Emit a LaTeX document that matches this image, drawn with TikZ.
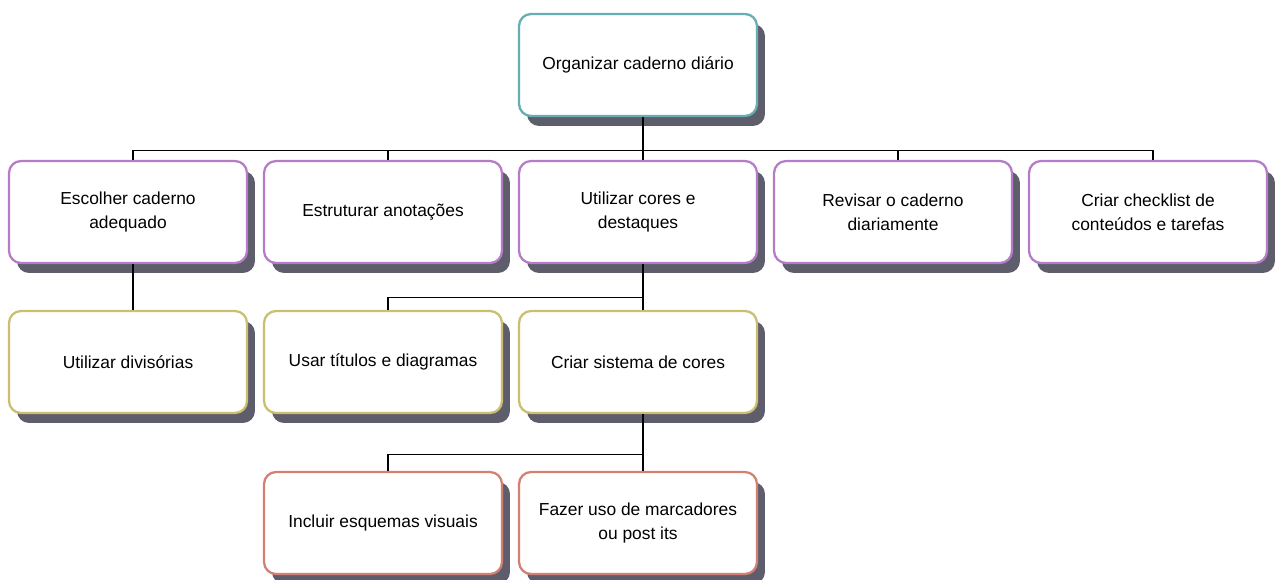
\documentclass[tikz,border=0pt]{standalone}
\usepackage{fontspec}
\setmainfont{Liberation Sans}
\usepackage{tikz}
\usetikzlibrary{positioning,shadows}
\definecolor{raizcor}{HTML}{66AEB4}
\definecolor{roxo}{HTML}{B57CC8}
\definecolor{oliva}{HTML}{CBBE6E}
\definecolor{salmao}{HTML}{D47F74}
\definecolor{sombra}{HTML}{5E5D6C}
\tikzset{
    caixa/.style={rectangle, rounded corners=0.24cm, draw, line width=1.3pt, fill=white,
        minimum width=4.76cm, minimum height=2.04cm, align=center,
        font=\fontsize{9.9}{13.6}\selectfont,
        drop shadow={shadow xshift=0.16cm, shadow yshift=-0.2cm, fill=sombra, opacity=1}},
    ligacao/.style={line width=0.6pt, black}
}

\begin{document}
\begin{tikzpicture}[x=0.02cm, y=-0.02cm]
    \useasboundingbox (0,0) rectangle (1283,580);

    % Raiz
    \node[caixa, draw=raizcor] (raiz) at (638,65) {Organizar caderno diário};

    % Primeiro nivel
    \node[caixa, draw=roxo] (escolher) at (128,212) {Escolher caderno\\adequado};
    \node[caixa, draw=roxo] (estruturar) at (383,212) {Estruturar anotações};
    \node[caixa, draw=roxo] (cores) at (638,212) {Utilizar cores e\\destaques};
    \node[caixa, draw=roxo] (revisar) at (893,212) {Revisar o caderno\\diariamente};
    \node[caixa, draw=roxo] (checklist) at (1148,212) {Criar checklist de\\conteúdos e tarefas};

    % Segundo nivel
    \node[caixa, draw=oliva] (divisorias) at (128,362) {Utilizar divisórias};
    \node[caixa, draw=oliva] (titulos) at (383,362) {Usar títulos e diagramas};
    \node[caixa, draw=oliva] (sistema) at (638,362) {Criar sistema de cores};

    % Terceiro nivel
    \node[caixa, draw=salmao] (esquemas) at (383,523) {Incluir esquemas visuais};
    \node[caixa, draw=salmao] (marcadores) at (638,523) {Fazer uso de marcadores\\ou post its};

    % Ligacoes
    \draw[ligacao] ([xshift=0.1cm]raiz.south) -- ++(0,-0.66cm) coordinate (b1);
    \foreach \n in {escolher, estruturar, cores, revisar, checklist}
        \draw[ligacao] (b1) -| ([xshift=0.1cm]\n.north);
    \draw[ligacao] ([xshift=0.1cm]escolher.south) -- ([xshift=0.1cm]divisorias.north);
    \draw[ligacao] ([xshift=0.1cm]cores.south) -- ++(0,-0.66cm) coordinate (b2);
    \foreach \n in {titulos, sistema}
        \draw[ligacao] (b2) -| ([xshift=0.1cm]\n.north);
    \draw[ligacao] ([xshift=0.1cm]sistema.south) -- ++(0,-0.8cm) coordinate (b3);
    \foreach \n in {esquemas, marcadores}
        \draw[ligacao] (b3) -| ([xshift=0.1cm]\n.north);

\end{tikzpicture}
\end{document}
